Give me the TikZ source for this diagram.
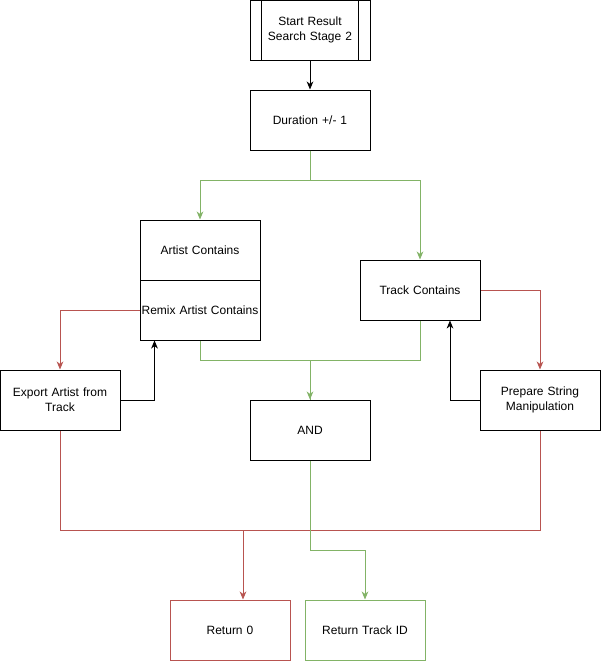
\documentclass[tikz,border=0pt]{standalone}
\usepackage{fontspec}
\setmainfont{Liberation Sans}
\usetikzlibrary{arrows.meta}
\definecolor{redline}{HTML}{B85450}
\definecolor{greenline}{HTML}{82B366}
\begin{document}
\begin{tikzpicture}[x=0.75pt,y=-0.75pt,
	font=\fontsize{9pt}{11pt}\selectfont,
	box/.style={draw,line width=0.75pt,minimum width=90pt,minimum height=45pt,inner sep=1pt,align=center,text width=88pt},
	tip/.style={-{Stealth[length=6pt,width=5pt,inset=1.8pt]}},
	blk/.style={line width=0.75pt,black},
	red/.style={line width=0.75pt,redline},
	grn/.style={line width=0.75pt,greenline}]
	\useasboundingbox (0,0) rectangle (601,661);
	\node[box] (start) at (310,30) {Start Result\\Search Stage 2};
	\draw[blk] ([xshift=9pt]start.north west) -- ([xshift=9pt]start.south west);
	\draw[blk] ([xshift=-9pt]start.north east) -- ([xshift=-9pt]start.south east);
	\node[box] (dur) at (310,120) {Duration +/- 1};
	\node[box] (artist) at (200,250) {Artist Contains};
	\node[box] (remix) at (200,310) {Remix Artist Contains};
	\node[box] (track) at (420,290) {Track Contains};
	\node[box] (export) at (60,400) {Export Artist from\\Track};
	\node[box] (prep) at (540,400) {Prepare String\\Manipulation};
	\node[box] (and) at (310,430) {AND};
	\node[box,draw=redline] (ret0) at (230,630) {Return 0};
	\node[box,draw=greenline] (retid) at (365,630) {Return Track ID};
	\coordinate (split) at (243,530);
	\draw[blk,tip] (start) -- (dur);
	\draw[grn,tip] (dur.south) -- ++(0,30) -| (artist.north);
	\draw[grn,tip] (dur.south) -- ++(0,30) -| (track.north);
	\draw[red,tip] (remix.west) -| (export.north);
	\draw[blk,tip] (export.east) -| ([xshift=11.25pt]remix.south west);
	\draw[grn,tip] (remix.south) -- ++(0,20) -| (and.north);
	\draw[grn] (track.south) -- ++(0,40) -| (and.north);
	\draw[red,tip] (track.east) -| (prep.north);
	\draw[blk,tip] (prep.west) -| ([xshift=22.5pt]track.south);
	\draw[red] (export.south) -- ++(0,100) -| (prep.south);
	\draw[red,tip] (split) -- (split |- ret0.north);
	\draw[grn,tip] (and.south) -- ++(0,90) -| (retid.north);
\end{tikzpicture}
\end{document}
